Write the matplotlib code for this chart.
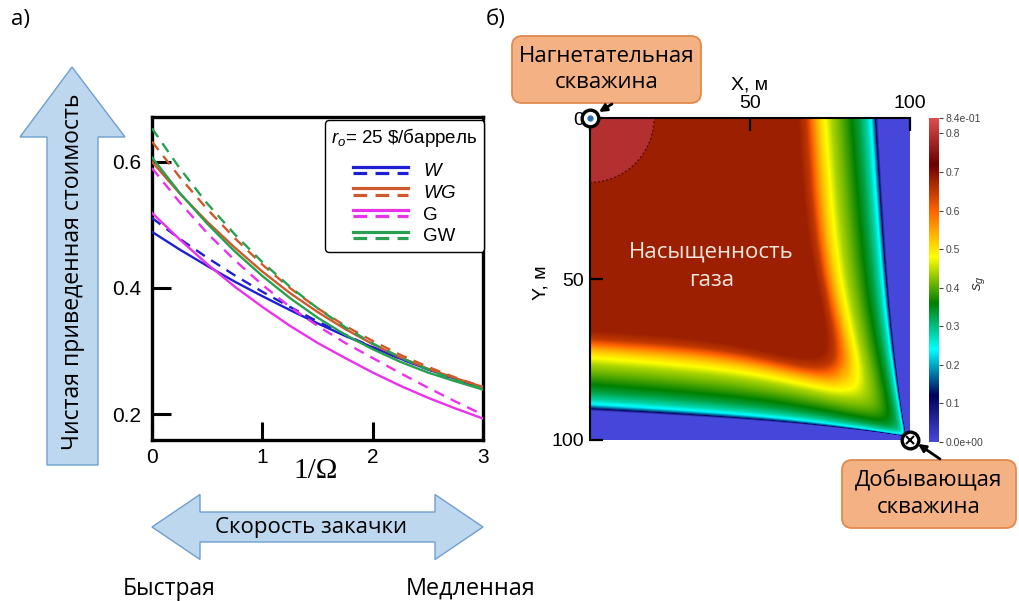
import numpy as np
import matplotlib
matplotlib.use("Agg")
import matplotlib.pyplot as plt
from matplotlib.lines import Line2D
from matplotlib.legend_handler import HandlerBase
from matplotlib.patches import FancyBboxPatch, Polygon, Circle, FancyArrowPatch
from matplotlib.colors import LinearSegmentedColormap, Normalize

# ---------------- panel a data ----------------
inv_omega = [0, 0.25, 0.5, 0.75, 1.0, 1.25, 1.5, 1.75, 2.0, 2.25, 2.5, 2.75, 3.0]
npv_W_solid   = [0.489, 0.461, 0.435, 0.410, 0.387, 0.365, 0.344, 0.324, 0.306, 0.288, 0.271, 0.256, 0.241]
npv_W_dashed  = [0.511, 0.478, 0.448, 0.420, 0.394, 0.370, 0.347, 0.326, 0.306, 0.288, 0.271, 0.255, 0.241]
npv_WG_solid  = [0.600, 0.550, 0.505, 0.464, 0.426, 0.392, 0.362, 0.335, 0.311, 0.290, 0.272, 0.257, 0.243]
npv_WG_dashed = [0.632, 0.576, 0.525, 0.479, 0.437, 0.400, 0.368, 0.340, 0.316, 0.294, 0.275, 0.258, 0.243]
npv_G_solid   = [0.519, 0.477, 0.438, 0.402, 0.370, 0.340, 0.313, 0.289, 0.266, 0.245, 0.226, 0.209, 0.193]
npv_G_dashed  = [0.590, 0.536, 0.487, 0.444, 0.405, 0.370, 0.340, 0.313, 0.289, 0.265, 0.242, 0.220, 0.199]
npv_GW_solid  = [0.607, 0.551, 0.502, 0.458, 0.419, 0.384, 0.353, 0.326, 0.303, 0.283, 0.266, 0.252, 0.239]
npv_GW_dashed = [0.653, 0.590, 0.534, 0.485, 0.441, 0.402, 0.368, 0.338, 0.312, 0.290, 0.271, 0.254, 0.240]
series_labels = ["$W$", "$WG$", "G", "GW"]
series_colors = ["#1e1ed2", "#cd5a2d", "#eb32eb", "#28a050"]
x_ticks_a = [0, 1, 2, 3]
y_ticks_a = [0.2, 0.4, 0.6]

# ---------------- panel b data ----------------
# gas saturation read along the top edge (y = 0): x position (m) -> s_g
edge_x_m = [0, 65.0, 67.5, 69.0, 70.5, 72.0, 73.5, 75.5, 78.0, 81.0, 84.0, 86.5, 88.0, 89.0, 89.6, 90.0, 100]
edge_sg  = [0.68, 0.68, 0.65, 0.60, 0.55, 0.51, 0.48, 0.44, 0.41, 0.37, 0.33, 0.28, 0.23, 0.15, 0.05, 0.0, 0.0]
# bending of the saturation contours toward the producer:
# contour level (m from the far edge) -> exponent of the bend
shape_level_m  = [0, 10, 20, 30, 40, 60, 100, 160]
shape_exponent = [0.60, 0.55, 0.36, 0.21, 0.15, 0.10, 0.06, 0.05]
diag_gain = 0.11        # extra advance of the front along the injector-producer diagonal
diag_width_m = 22.0
corner_round_m = 5.0
bottom_shift_m = 1.0    # bottom band lies ~1 m lower than the right band
inj_zone_radius_m = 20.0
inj_zone_sg = 0.795
cbar_ticks = [0.0, 0.1, 0.2, 0.3, 0.4, 0.5, 0.6, 0.7, 0.8, 0.84]
cbar_labels = ["0.0e+00", "0.1", "0.2", "0.3", "0.4", "0.5", "0.6", "0.7", "0.8", "8.4e-01"]
xy_ticks_b = [0, 50, 100]

# ---------------- fonts ----------------
plt.rcParams["font.family"] = ["Liberation Sans", "DejaVu Sans"]
plt.rcParams["mathtext.fontset"] = "custom"
plt.rcParams["mathtext.it"] = "Liberation Sans:italic"
plt.rcParams["mathtext.rm"] = "Liberation Sans"
CAL = ["Open Sans", "DejaVu Sans"]

W, H = 1020, 601
fig = plt.figure(figsize=(W / 100, H / 100), dpi=100)


def fx(x):
    return x / W


def fy(y):
    return 1 - y / H


def inch(x, y):
    return (x / 100, (H - y) / 100)


# ================= panel a =================
axa = fig.add_axes([fx(152), fy(440), (483 - 152) / W, (440 - 117) / H])
xs = np.array(inv_omega)
pairs = [(npv_W_solid, npv_W_dashed), (npv_WG_solid, npv_WG_dashed),
         (npv_G_solid, npv_G_dashed), (npv_GW_solid, npv_GW_dashed)]
for (sol, das), col in zip(pairs, series_colors):
    axa.plot(xs, sol, color=col, lw=1.7, zorder=3)
    axa.plot(xs, das, color=col, lw=1.7, dashes=(4.5, 3.2), zorder=3)
axa.set_xlim(0, 3)
axa.set_ylim(0.159, 0.671)
axa.set_xticks(x_ticks_a)
axa.set_yticks(y_ticks_a)
axa.set_xticklabels([str(v) for v in x_ticks_a])
axa.set_yticklabels([f"{v:.1f}" for v in y_ticks_a])
axa.tick_params(axis="y", direction="in", length=14, width=2.2, labelsize=15, pad=8)
axa.tick_params(axis="x", direction="in", length=13, width=2.2, labelsize=15, pad=6)
for sp in axa.spines.values():
    sp.set_linewidth(2.4)
axa.set_xlabel("1/\u03A9", family=["Liberation Serif", "DejaVu Serif"], fontsize=21)
axa.xaxis.set_label_coords(0.493, -0.095)
axa.xaxis.label.set_va("center")


class PairHandler(HandlerBase):
    def create_artists(self, legend, orig_handle, xdescent, ydescent,
                       width, height, fontsize, trans):
        col = orig_handle.get_color()
        yc = (height - ydescent) / 2
        off = 0.17 * fontsize
        x0, x1 = -xdescent, -xdescent + width
        l1 = Line2D([x0, x1], [yc + off, yc + off], color=col, lw=2.3, transform=trans)
        l2 = Line2D([x0, x1], [yc - off, yc - off], color=col, lw=2.3,
                    dashes=(4.3, 2.6), transform=trans)
        return [l1, l2]


handles = [Line2D([], [], color=c) for c in series_colors]
leg = axa.legend(handles, series_labels, handler_map={Line2D: PairHandler()},
                 title=r"$r_o$= 25 \$/баррель", loc="upper right",
                 bbox_to_anchor=(1.004, 0.991), borderaxespad=0.0,
                 fontsize=13.5, title_fontsize=13.5, handlelength=2.9,
                 handletextpad=0.8, labelspacing=0.24, borderpad=0.35,
                 fancybox=True, framealpha=1, edgecolor="black")
leg.get_frame().set_linewidth(1.0)
try:
    leg._legend_box.sep = 10
except Exception:
    pass

# ================= panel b =================
N = 320
cc = (np.arange(N) + 0.5) / N * 100          # cell centres (m)
u_vals = 100 - cc                              # distance from the producer side (x)
v_vals = 100 - cc                              # distance from the producer side (y)
U_levels = np.linspace(0, 160, 1601)
a_levels = np.interp(U_levels, shape_level_m, shape_exponent)
U_r = np.empty((N, N))
for j, v in enumerate(v_vals):
    uc = U_levels * (v / 100.0) ** a_levels
    U_r[j, :] = np.interp(u_vals, uc, U_levels)
U_b = U_r.T + bottom_shift_m
k = corner_round_m
U = -k * np.logaddexp(-U_r / k, -U_b / k)
UU, VV = np.meshgrid(u_vals, v_vals)
U = U * (1 + diag_gain * np.exp(-((UU - VV) / diag_width_m) ** 2))
S = np.interp(100 - U, edge_x_m, edge_sg)
XX, YY = np.meshgrid(cc, cc)
S[np.hypot(XX, YY) < inj_zone_radius_m] = inj_zone_sg

# ParaView "Rainbow Desaturated"
rd_colors = [(0.278, 0.278, 0.858), (0.0, 0.0, 0.359), (0.0, 1.0, 1.0), (0.0, 0.502, 0.0),
             (1.0, 1.0, 0.0), (1.0, 0.380, 0.0), (0.420, 0.0, 0.0), (0.878, 0.302, 0.302)]
cmap = LinearSegmentedColormap.from_list("rainbow_desat", rd_colors, N=512)
norm = Normalize(0, 0.84)

axb = fig.add_axes([fx(590), fy(440), 320 / W, 322 / H])
im = axb.imshow(S, cmap=cmap, norm=norm, extent=[0, 100, 100, 0], origin="upper",
                interpolation="bilinear", aspect="auto")
axb.set_xlim(0, 100)
axb.set_ylim(100, 0)
axb.add_patch(Circle((0, 0), inj_zone_radius_m, fill=False, ec="#5a0a0a", lw=1.0,
                     ls=(0, (1.5, 1.5)), zorder=3))
axb.spines["bottom"].set_visible(False)
axb.spines["right"].set_visible(False)
axb.spines["left"].set_linewidth(1.5)
axb.spines["top"].set_linewidth(1.5)
axb.xaxis.tick_top()
axb.set_xticks(xy_ticks_b)
axb.set_xticklabels(["", "50", "100"])
axb.set_yticks(xy_ticks_b)
axb.set_yticklabels([str(v) for v in xy_ticks_b])
axb.tick_params(axis="both", direction="in", length=9, width=1.6, labelsize=14, pad=4)
axb.xaxis.set_label_position("top")
axb.set_xlabel("X, м", fontsize=14)
axb.xaxis.set_label_coords((750 - 590) / 320, (440 - 85) / 322)
axb.xaxis.label.set_va("center")
axb.set_ylabel("Y, м", fontsize=14)
axb.yaxis.set_label_coords((541 - 590) / 320, (440 - 283) / 322)
axb.yaxis.label.set_va("center")

# wells
axb.plot([0], [0], marker="o", ms=12, mfc="white", mec="black", mew=2.4, clip_on=False, zorder=6)
axb.plot([0], [0], marker="o", ms=3.5, color="#2a6fb5", clip_on=False, zorder=7)
axb.plot([100], [100], marker="o", ms=12, mfc="white", mec="black", mew=2.4, clip_on=False, zorder=6)
axb.plot([100], [100], marker="x", ms=6, mec="black", mew=1.5, clip_on=False, zorder=7)

axb.text(38, 46, "Насыщенность\nгаза", color="#f2e6dc", fontsize=16, family=CAL,
         ha="center", va="center", linespacing=1.45)

# colorbar
cax = fig.add_axes([fx(929), fy(442), 10 / W, 324 / H])
cb = fig.colorbar(im, cax=cax)
cb.set_ticks(cbar_ticks)
cb.set_ticklabels(cbar_labels)
cb.outline.set_visible(False)
cax.tick_params(length=3, width=0.8, colors="#444444", labelsize=7.5, pad=2)
cb.set_label("$s_g$", fontsize=11, color="#333333", rotation=90)
cax.yaxis.set_label_coords(5.1, 0.49)
cax.yaxis.label.set_va("center")

# ================= decorations =================
fig.text(fx(21), fy(19), "а)", fontsize=16, family=CAL, ha="center", va="center")
fig.text(fx(496), fy(19), "б)", fontsize=16, family=CAL, ha="center", va="center")

arrow_fc = "#bdd7ee"
arrow_ec = "#6f9fcf"
up_pts = [(72, 67), (125, 137), (98, 137), (98, 465), (47, 465), (47, 137), (20, 137)]
fig.add_artist(Polygon([inch(*p) for p in up_pts], closed=True, fc=arrow_fc, ec=arrow_ec,
                       lw=1.0, transform=fig.dpi_scale_trans))
fig.text(fx(73), fy(272), "Чистая приведенная стоимость", rotation=90, fontsize=16.6,
         family=CAL, ha="center", va="center")

lr_pts = [(152, 527), (200, 494.5), (200, 512), (435, 512), (435, 494.5), (483, 527),
          (435, 559.5), (435, 542), (200, 542), (200, 559.5)]
fig.add_artist(Polygon([inch(*p) for p in lr_pts], closed=True, fc=arrow_fc, ec=arrow_ec,
                       lw=1.0, transform=fig.dpi_scale_trans))
fig.text(fx(311), fy(528), "Скорость закачки", fontsize=16, family=CAL, ha="center", va="center")
fig.text(fx(169), fy(589), "Быстрая", fontsize=16.5, family=CAL, ha="center", va="center")
fig.text(fx(471), fy(589), "Медленная", fontsize=16.8, family=CAL, ha="center", va="center")

box_fc = "#f4b183"
box_ec = "#e08a50"
for (x0, y0, x1, y1, txt, cx) in [(512, 36, 701, 103, "Нагнетательная\nскважина", 607),
                                  (842, 460, 1016, 528, "Добывающая\nскважина", 929)]:
    (bx, by) = inch(x0, y1)
    bw = (x1 - x0) / 100
    bh = (y1 - y0) / 100
    fig.add_artist(FancyBboxPatch((bx, by), bw, bh, boxstyle="round,pad=0,rounding_size=0.1",
                                  fc=box_fc, ec=box_ec, lw=1.3, transform=fig.dpi_scale_trans))
    fig.text(fx(cx), fy((y0 + y1) / 2), txt, fontsize=16, family=CAL, ha="center",
             va="center", linespacing=1.3)

for (a, b) in [((612, 104), (599, 112)), ((940, 459), (918, 444))]:
    fig.add_artist(FancyArrowPatch(inch(*a), inch(*b), arrowstyle="-|>", mutation_scale=11,
                                   lw=2.0, color="black", transform=fig.dpi_scale_trans,
                                   shrinkA=0, shrinkB=0))

fig.savefig("out.png", dpi=100)
